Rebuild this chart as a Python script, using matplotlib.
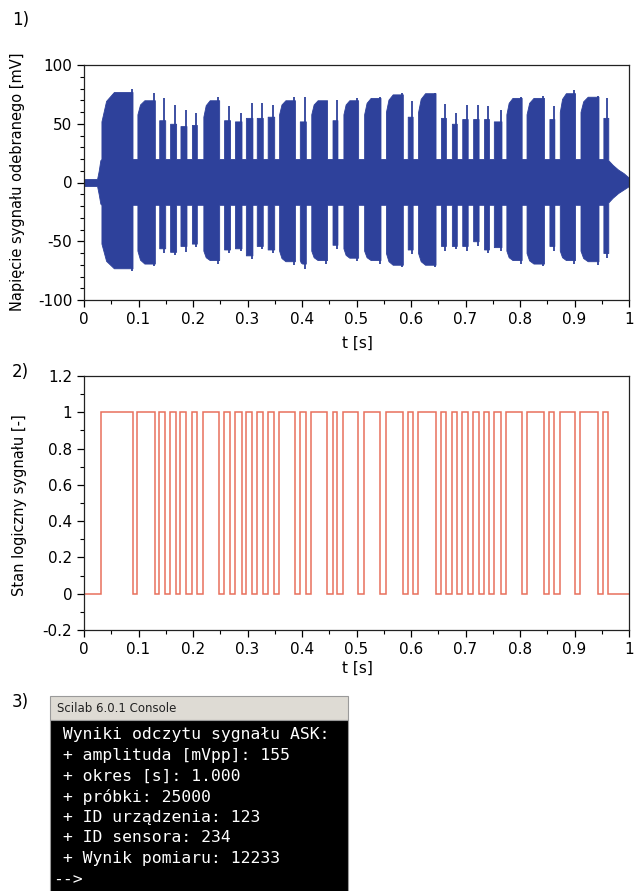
import numpy as np
import matplotlib.pyplot as plt
from matplotlib.patches import Rectangle
from matplotlib.ticker import MultipleLocator

plt.rcParams["axes.unicode_minus"] = False

# bit edges of the decoded signal [s]
rise_t = [0.032, 0.098, 0.138, 0.158, 0.177, 0.198, 0.219, 0.257, 0.277, 0.297, 0.317,
          0.337, 0.358, 0.396, 0.417, 0.456, 0.476, 0.514, 0.554, 0.594, 0.613, 0.655,
          0.675, 0.694, 0.714, 0.734, 0.752, 0.775, 0.812, 0.854, 0.873, 0.911, 0.953]
fall_t = [0.089, 0.130, 0.149, 0.169, 0.188, 0.207, 0.248, 0.268, 0.289, 0.309, 0.328,
          0.349, 0.387, 0.407, 0.446, 0.465, 0.503, 0.544, 0.585, 0.603, 0.645, 0.664,
          0.684, 0.704, 0.724, 0.743, 0.766, 0.803, 0.844, 0.863, 0.901, 0.944, 0.962]

# envelope of each burst [mV]
top_start = [52, 58, 53, 50, 48, 49, 56, 53, 52, 55, 55, 56, 58, 52, 58, 53, 58,
             58, 60, 56, 60, 55, 50, 54, 54, 54, 52, 58, 58, 54, 60, 60, 55]
top_end = [77, 70, 53, 50, 48, 49, 70, 53, 52, 55, 55, 56, 70, 52, 70, 53, 70,
           72, 75, 56, 76, 55, 50, 54, 54, 54, 52, 72, 72, 54, 76, 73, 55]
top_spike = [80, 76, 72, 66, 62, 59, 73, 65, 59, 68, 68, 66, 73, 73, 69, 70, 72,
             73, 76, 69, 76, 67, 59, 66, 66, 65, 62, 73, 74, 65, 79, 74, 72]
bot_start = [-52, -58, -56, -59, -54, -52, -58, -57, -56, -62, -54, -57, -58, -66, -58, -53, -56,
             -58, -60, -57, -60, -54, -54, -54, -50, -57, -55, -58, -60, -54, -58, -58, -60]
bot_end = [-73, -69, -56, -59, -54, -52, -66, -57, -56, -62, -54, -57, -67, -69, -66, -53, -64,
           -66, -70, -57, -70, -54, -54, -54, -50, -57, -55, -66, -69, -54, -66, -67, -60]
bot_spike = [-75, -71, -60, -62, -59, -55, -69, -60, -58, -65, -57, -60, -70, -74, -69, -57, -67,
             -69, -72, -61, -72, -58, -57, -58, -54, -60, -58, -69, -71, -58, -69, -70, -64]

# carrier level between bursts, lead-in and decay tail [mV]
low_top, low_bot = 20, -19
lead_t = [0.0, 0.024, 0.027, 0.030]
lead_top = [3, 3, 10, 19]
lead_bot = [-3, -3, -10, -18]
tail_t = [0.962, 0.970, 0.980, 0.990, 1.0]
tail_top = [19, 15, 11, 8, 4]
tail_bot = [-17, -13, -9, -6, -3]

console_lines = [
    " Wyniki odczytu sygnału ASK:",
    " + amplituda [mVpp]: 155",
    " + okres [s]: 1.000",
    " + próbki: 25000",
    " + ID urządzenia: 123",
    " + ID sensora: 234",
    " + Wynik pomiaru: 12233",
    "-->",
]

BLUE = "#2e419b"
RED = "#e8705c"
W, H = 635, 891


def envelope():
    t, up, lo = list(lead_t), list(lead_top), list(lead_bot)
    for i in range(len(rise_t)):
        r, f = rise_t[i], fall_t[i]
        k1 = r + 0.15 * (f - r)
        k2 = r + 0.4 * (f - r)
        mid_up = top_start[i] + 0.7 * (top_end[i] - top_start[i])
        mid_lo = bot_start[i] + 0.7 * (bot_end[i] - bot_start[i])
        t += [r, r, k1, k2, f, f]
        up += [low_top, top_start[i], mid_up, top_end[i], top_end[i], low_top]
        lo += [low_bot, bot_start[i], mid_lo, bot_end[i], bot_end[i], low_bot]
    t += tail_t
    up += tail_top
    lo += tail_bot
    return np.array(t), np.array(up), np.array(lo)


def style_axes(ax):
    for s in ax.spines.values():
        s.set_color("#222222")
        s.set_linewidth(0.9)
    ax.tick_params(which="major", direction="out", length=5, width=0.9, labelsize=11)
    ax.tick_params(which="minor", direction="out", length=3, width=0.8)
    ax.xaxis.set_minor_locator(MultipleLocator(0.05))
    ax.set_xticks(np.arange(0, 1.01, 0.1))
    ax.set_xticklabels(["0"] + [f"{v:.1f}" for v in np.arange(0.1, 0.95, 0.1)] + ["1"])
    ax.set_xlim(0, 1)


fig = plt.figure(figsize=(W / 100, H / 100), dpi=100)

# 1) received signal
ax1 = fig.add_axes([84 / W, 1 - 300 / H, 545 / W, 235 / H])
t, up, lo = envelope()
ax1.fill_between(t, lo, up, color=BLUE, lw=0.6, edgecolor=BLUE)
ax1.vlines(np.array(fall_t) - 0.0015, bot_spike, top_spike, color=BLUE, lw=1.3)
ax1.set_ylim(-100, 100)
ax1.yaxis.set_major_locator(MultipleLocator(50))
ax1.yaxis.set_minor_locator(MultipleLocator(10))
style_axes(ax1)

# 2) logic state
ax2 = fig.add_axes([84 / W, 1 - 630 / H, 545 / W, 254 / H])
edges = [0.0] + [v for pair in zip(rise_t, fall_t) for v in pair] + [1.0]
levels = [0, 1] * len(rise_t) + [0]
ax2.stairs(levels, edges, baseline=None, color=RED, lw=1.1)
ax2.set_ylim(-0.2, 1.2)
ax2.yaxis.set_minor_locator(MultipleLocator(0.1))
ax2.set_yticks(np.arange(-0.2, 1.21, 0.2))
ax2.set_yticklabels(["-0.2", "0", "0.2", "0.4", "0.6", "0.8", "1", "1.2"])
style_axes(ax2)

fig.text(357 / W, 1 - 343 / H, "t [s]", ha="center", va="center", fontsize=11)
fig.text(357 / W, 1 - 668 / H, "t [s]", ha="center", va="center", fontsize=11)
fig.text(18 / W, 1 - 182 / H, "Napięcie sygnału odebranego [mV]", rotation=90,
         ha="center", va="center", fontsize=10.5)
fig.text(20 / W, 1 - 505 / H, "Stan logiczny sygnału [-]", rotation=90,
         ha="center", va="center", fontsize=10.5)
for lab, y in [("1)", 20), ("2)", 372), ("3)", 702)]:
    fig.text(12 / W, 1 - y / H, lab, ha="left", va="center", fontsize=12)

# 3) console window
ax3 = fig.add_axes([0, 0, 1, 1])
ax3.set_xlim(0, W)
ax3.set_ylim(H, 0)
ax3.axis("off")
ax3.add_patch(Rectangle((50, 696), 298, 24, facecolor="#dedbd4", edgecolor="#9a9a9a", lw=0.8))
ax3.add_patch(Rectangle((50, 720), 298, 175, facecolor="black", edgecolor="#9a9a9a", lw=0.8))
ax3.text(57, 708, "Scilab 6.0.1 Console", ha="left", va="center", fontsize=8.5, color="#222222")
for i, line in enumerate(console_lines):
    ax3.text(53, 735 + 20.6 * i, line, ha="left", va="center", color="white",
             fontsize=11.8, family="DejaVu Sans Mono")

fig.savefig("out.png", dpi=100)
